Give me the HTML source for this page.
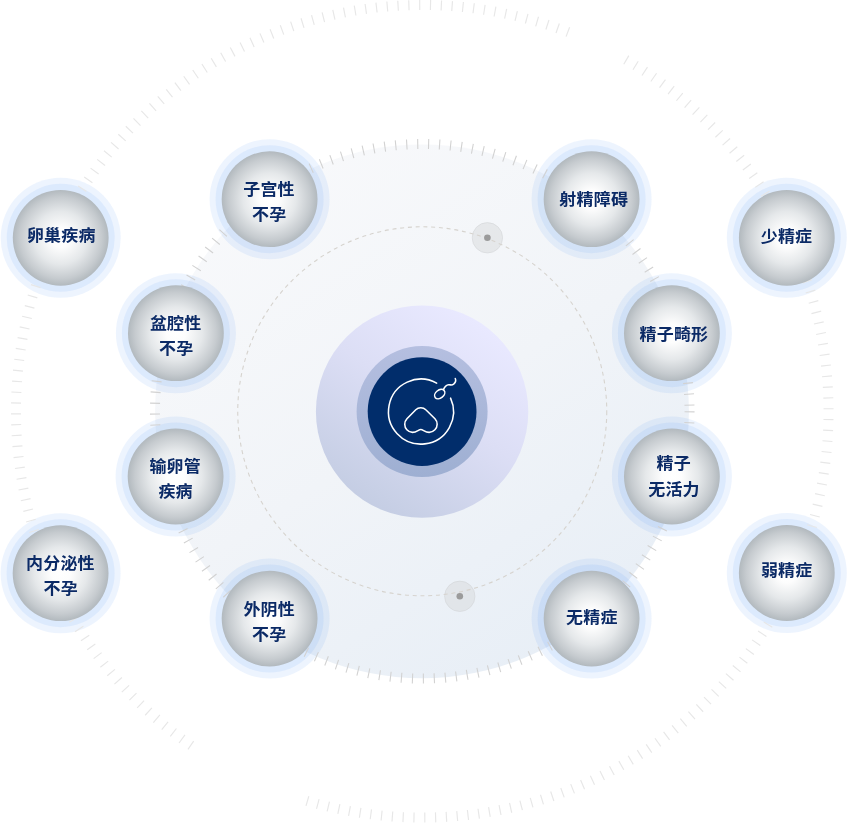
<!DOCTYPE html>
<html lang="zh-CN"><head><meta charset="utf-8"><title>不孕不育病因</title>
<style>html,body{margin:0;padding:0;background:#fff;}body{width:847px;height:823px;overflow:hidden;}svg{display:block;position:absolute;left:0;top:0;}svg.txt{will-change:transform;}</style>
</head><body>
<svg width="847" height="823" viewBox="0 0 847 823">
<defs>
<linearGradient id="disc" x1="0.2" y1="0.05" x2="0.8" y2="0.98">
<stop offset="0" stop-color="#f8f9fb"/><stop offset="0.5" stop-color="#f1f4f8"/><stop offset="1" stop-color="#e7eef6"/>
</linearGradient>
<linearGradient id="purple" x1="0.8" y1="0.1" x2="0.25" y2="0.95">
<stop offset="0" stop-color="#e9e9ff"/><stop offset="0.45" stop-color="#dcdef5"/><stop offset="1" stop-color="#c4cde3"/>
</linearGradient>
<linearGradient id="ring" x1="0.5" y1="0" x2="0.5" y2="1">
<stop offset="0" stop-color="#b5bfe0"/><stop offset="1" stop-color="#9eafd2"/>
</linearGradient>
<radialGradient id="sph" cx="0.5" cy="0.5" r="0.5">
<stop offset="0" stop-color="#ffffff"/><stop offset="0.2" stop-color="#fdfdfd"/><stop offset="0.55" stop-color="#e5e8ea"/><stop offset="0.85" stop-color="#c6cbcf"/><stop offset="1" stop-color="#b2b9be"/>
</radialGradient>
</defs>
<rect width="847" height="823" fill="#ffffff"/>
<circle cx="422.0" cy="411.3" r="266.9" fill="url(#disc)"/>
<circle cx="60.7" cy="237.8" r="60" fill="#5098f5" fill-opacity="0.1"/><circle cx="60.7" cy="237.8" r="54" fill="#5098f5" fill-opacity="0.1"/>
<circle cx="269.6" cy="199.2" r="60" fill="#5098f5" fill-opacity="0.1"/><circle cx="269.6" cy="199.2" r="54" fill="#5098f5" fill-opacity="0.1"/>
<circle cx="175.9" cy="333.2" r="60" fill="#5098f5" fill-opacity="0.1"/><circle cx="175.9" cy="333.2" r="54" fill="#5098f5" fill-opacity="0.1"/>
<circle cx="175.6" cy="476.5" r="60" fill="#5098f5" fill-opacity="0.1"/><circle cx="175.6" cy="476.5" r="54" fill="#5098f5" fill-opacity="0.1"/>
<circle cx="60.6" cy="573.2" r="60" fill="#5098f5" fill-opacity="0.1"/><circle cx="60.6" cy="573.2" r="54" fill="#5098f5" fill-opacity="0.1"/>
<circle cx="269.6" cy="618.6" r="60" fill="#5098f5" fill-opacity="0.1"/><circle cx="269.6" cy="618.6" r="54" fill="#5098f5" fill-opacity="0.1"/>
<circle cx="591.6" cy="199.2" r="60" fill="#5098f5" fill-opacity="0.1"/><circle cx="591.6" cy="199.2" r="54" fill="#5098f5" fill-opacity="0.1"/>
<circle cx="786.8" cy="237.8" r="60" fill="#5098f5" fill-opacity="0.1"/><circle cx="786.8" cy="237.8" r="54" fill="#5098f5" fill-opacity="0.1"/>
<circle cx="671.9" cy="333.2" r="60" fill="#5098f5" fill-opacity="0.1"/><circle cx="671.9" cy="333.2" r="54" fill="#5098f5" fill-opacity="0.1"/>
<circle cx="671.9" cy="476.5" r="60" fill="#5098f5" fill-opacity="0.1"/><circle cx="671.9" cy="476.5" r="54" fill="#5098f5" fill-opacity="0.1"/>
<circle cx="786.8" cy="573.0" r="60" fill="#5098f5" fill-opacity="0.1"/><circle cx="786.8" cy="573.0" r="54" fill="#5098f5" fill-opacity="0.1"/>
<circle cx="591.6" cy="618.6" r="60" fill="#5098f5" fill-opacity="0.1"/><circle cx="591.6" cy="618.6" r="54" fill="#5098f5" fill-opacity="0.1"/>
<g stroke="#e7e7e7" stroke-width="1.15" fill="none"><line x1="20.96" y1="413.82" x2="10.96" y2="413.88"/><line x1="21.03" y1="403.14" x2="11.04" y2="402.93"/><line x1="21.39" y1="392.46" x2="11.40" y2="391.99"/><line x1="22.04" y1="381.80" x2="12.06" y2="381.06"/><line x1="22.96" y1="371.15" x2="13.01" y2="370.15"/><line x1="24.17" y1="360.54" x2="14.25" y2="359.27"/><line x1="25.67" y1="349.96" x2="15.78" y2="348.43"/><line x1="27.44" y1="339.42" x2="17.60" y2="337.63"/><line x1="29.49" y1="328.94" x2="19.71" y2="326.89"/><line x1="31.82" y1="318.51" x2="22.10" y2="316.20"/><line x1="34.43" y1="308.15" x2="24.77" y2="305.58"/><line x1="37.32" y1="297.86" x2="27.72" y2="295.04"/><line x1="40.47" y1="287.66" x2="30.96" y2="284.58"/><line x1="43.90" y1="277.54" x2="34.47" y2="274.20"/><line x1="47.59" y1="267.51" x2="38.26" y2="263.93"/><line x1="51.55" y1="257.59" x2="42.32" y2="253.76"/><line x1="55.78" y1="247.78" x2="46.65" y2="243.70"/><line x1="60.26" y1="238.08" x2="51.24" y2="233.76"/><line x1="65.00" y1="228.50" x2="56.10" y2="223.95"/><line x1="69.99" y1="219.06" x2="61.21" y2="214.27"/><line x1="75.24" y1="209.75" x2="66.59" y2="204.73"/><line x1="80.72" y1="200.58" x2="72.21" y2="195.33"/><line x1="86.45" y1="191.57" x2="78.09" y2="186.09"/><line x1="92.42" y1="182.71" x2="84.20" y2="177.01"/><line x1="98.62" y1="174.01" x2="90.56" y2="168.09"/><line x1="105.06" y1="165.48" x2="97.15" y2="159.35"/><line x1="111.71" y1="157.12" x2="103.97" y2="150.78"/><line x1="118.59" y1="148.94" x2="111.02" y2="142.40"/><line x1="125.68" y1="140.95" x2="118.29" y2="134.21"/><line x1="132.98" y1="133.15" x2="125.77" y2="126.22"/><line x1="140.49" y1="125.55" x2="133.47" y2="118.43"/><line x1="148.20" y1="118.15" x2="141.37" y2="110.85"/><line x1="156.10" y1="110.96" x2="149.46" y2="103.48"/><line x1="164.19" y1="103.98" x2="157.76" y2="96.32"/><line x1="172.46" y1="97.22" x2="166.23" y2="89.39"/><line x1="180.91" y1="90.68" x2="174.89" y2="82.69"/><line x1="189.53" y1="84.37" x2="183.73" y2="76.22"/><line x1="198.31" y1="78.29" x2="192.73" y2="69.99"/><line x1="207.26" y1="72.45" x2="201.90" y2="64.00"/><line x1="216.36" y1="66.85" x2="211.22" y2="58.26"/><line x1="225.60" y1="61.49" x2="220.70" y2="52.77"/><line x1="234.98" y1="56.38" x2="230.31" y2="47.53"/><line x1="244.49" y1="51.52" x2="240.06" y2="42.55"/><line x1="254.14" y1="46.91" x2="249.95" y2="37.83"/><line x1="263.89" y1="42.57" x2="259.95" y2="33.38"/><line x1="273.77" y1="38.48" x2="270.07" y2="29.19"/><line x1="283.74" y1="34.66" x2="280.29" y2="25.27"/><line x1="293.82" y1="31.11" x2="290.62" y2="21.63"/><line x1="303.99" y1="27.82" x2="301.04" y2="18.27"/><line x1="314.24" y1="24.81" x2="311.54" y2="15.18"/><line x1="324.56" y1="22.07" x2="322.13" y2="12.37"/><line x1="334.96" y1="19.61" x2="332.78" y2="9.85"/><line x1="345.42" y1="17.42" x2="343.50" y2="7.61"/><line x1="355.93" y1="15.52" x2="354.28" y2="5.66"/><line x1="366.49" y1="13.89" x2="365.10" y2="3.99"/><line x1="377.09" y1="12.55" x2="375.96" y2="2.61"/><line x1="387.72" y1="11.49" x2="386.86" y2="1.53"/><line x1="398.37" y1="10.71" x2="397.78" y2="0.73"/><line x1="409.05" y1="10.22" x2="408.72" y2="0.22"/><line x1="419.73" y1="10.01" x2="419.67" y2="0.01"/><line x1="430.41" y1="10.08" x2="430.62" y2="0.09"/><line x1="441.09" y1="10.44" x2="441.56" y2="0.45"/><line x1="451.75" y1="11.09" x2="452.49" y2="1.11"/><line x1="462.40" y1="12.01" x2="463.40" y2="2.06"/><line x1="473.01" y1="13.22" x2="474.28" y2="3.30"/><line x1="483.59" y1="14.72" x2="485.12" y2="4.83"/><line x1="494.13" y1="16.49" x2="495.92" y2="6.65"/><line x1="504.61" y1="18.54" x2="506.66" y2="8.76"/><line x1="515.04" y1="20.87" x2="517.35" y2="11.15"/><line x1="525.40" y1="23.48" x2="527.97" y2="13.82"/><line x1="535.69" y1="26.37" x2="538.51" y2="16.77"/><line x1="545.89" y1="29.52" x2="548.97" y2="20.01"/><line x1="556.01" y1="32.95" x2="559.35" y2="23.52"/><line x1="566.04" y1="36.64" x2="569.62" y2="27.31"/><line x1="623.80" y1="64.29" x2="628.82" y2="55.64"/><line x1="632.97" y1="69.77" x2="638.22" y2="61.26"/><line x1="641.98" y1="75.50" x2="647.46" y2="67.14"/><line x1="650.84" y1="81.47" x2="656.54" y2="73.25"/><line x1="659.54" y1="87.67" x2="665.46" y2="79.61"/><line x1="668.07" y1="94.11" x2="674.20" y2="86.20"/><line x1="676.43" y1="100.76" x2="682.77" y2="93.02"/><line x1="684.61" y1="107.64" x2="691.15" y2="100.07"/><line x1="692.60" y1="114.73" x2="699.34" y2="107.34"/><line x1="700.40" y1="122.03" x2="707.33" y2="114.82"/><line x1="708.00" y1="129.54" x2="715.12" y2="122.52"/><line x1="715.40" y1="137.25" x2="722.70" y2="130.42"/><line x1="722.59" y1="145.15" x2="730.07" y2="138.51"/><line x1="729.57" y1="153.24" x2="737.23" y2="146.81"/><line x1="736.33" y1="161.51" x2="744.16" y2="155.28"/><line x1="742.87" y1="169.96" x2="750.86" y2="163.94"/><line x1="749.18" y1="178.58" x2="757.33" y2="172.78"/><line x1="755.26" y1="187.36" x2="763.56" y2="181.78"/><line x1="761.10" y1="196.31" x2="769.55" y2="190.95"/><line x1="766.70" y1="205.41" x2="775.29" y2="200.27"/><line x1="772.06" y1="214.65" x2="780.78" y2="209.75"/><line x1="777.17" y1="224.03" x2="786.02" y2="219.36"/><line x1="782.03" y1="233.54" x2="791.00" y2="229.11"/><line x1="786.64" y1="243.19" x2="795.72" y2="239.00"/><line x1="790.98" y1="252.94" x2="800.17" y2="249.00"/><line x1="795.07" y1="262.82" x2="804.36" y2="259.12"/><line x1="798.89" y1="272.79" x2="808.28" y2="269.34"/><line x1="802.44" y1="282.87" x2="811.92" y2="279.67"/><line x1="805.73" y1="293.04" x2="815.28" y2="290.09"/><line x1="808.74" y1="303.29" x2="818.37" y2="300.59"/><line x1="811.48" y1="313.61" x2="821.18" y2="311.18"/><line x1="813.94" y1="324.01" x2="823.70" y2="321.83"/><line x1="816.13" y1="334.47" x2="825.94" y2="332.55"/><line x1="818.03" y1="344.98" x2="827.89" y2="343.33"/><line x1="819.66" y1="355.54" x2="829.56" y2="354.15"/><line x1="821.00" y1="366.14" x2="830.94" y2="365.01"/><line x1="822.06" y1="376.77" x2="832.02" y2="375.91"/><line x1="822.84" y1="387.42" x2="832.82" y2="386.83"/><line x1="823.33" y1="398.10" x2="833.33" y2="397.77"/><line x1="823.54" y1="408.78" x2="833.54" y2="408.72"/><line x1="823.47" y1="419.46" x2="833.46" y2="419.67"/><line x1="823.11" y1="430.14" x2="833.10" y2="430.61"/><line x1="822.46" y1="440.80" x2="832.44" y2="441.54"/><line x1="821.54" y1="451.45" x2="831.49" y2="452.45"/><line x1="820.33" y1="462.06" x2="830.25" y2="463.33"/><line x1="818.83" y1="472.64" x2="828.72" y2="474.17"/><line x1="817.06" y1="483.18" x2="826.90" y2="484.97"/><line x1="815.01" y1="493.66" x2="824.79" y2="495.71"/><line x1="812.68" y1="504.09" x2="822.40" y2="506.40"/><line x1="810.07" y1="514.45" x2="819.73" y2="517.02"/><line x1="807.18" y1="524.74" x2="816.78" y2="527.56"/><line x1="804.03" y1="534.94" x2="813.54" y2="538.02"/><line x1="800.60" y1="545.06" x2="810.03" y2="548.40"/><line x1="796.91" y1="555.09" x2="806.24" y2="558.67"/><line x1="792.95" y1="565.01" x2="802.18" y2="568.84"/><line x1="788.72" y1="574.82" x2="797.85" y2="578.90"/><line x1="784.24" y1="584.52" x2="793.26" y2="588.84"/><line x1="779.50" y1="594.10" x2="788.40" y2="598.65"/><line x1="774.51" y1="603.54" x2="783.29" y2="608.33"/><line x1="769.26" y1="612.85" x2="777.91" y2="617.87"/><line x1="763.78" y1="622.02" x2="772.29" y2="627.27"/><line x1="758.05" y1="631.03" x2="766.41" y2="636.51"/><line x1="752.08" y1="639.89" x2="760.30" y2="645.59"/><line x1="745.88" y1="648.59" x2="753.94" y2="654.51"/><line x1="739.44" y1="657.12" x2="747.35" y2="663.25"/><line x1="732.79" y1="665.48" x2="740.53" y2="671.82"/><line x1="725.91" y1="673.66" x2="733.48" y2="680.20"/><line x1="718.82" y1="681.65" x2="726.21" y2="688.39"/><line x1="711.52" y1="689.45" x2="718.73" y2="696.38"/><line x1="704.01" y1="697.05" x2="711.03" y2="704.17"/><line x1="696.30" y1="704.45" x2="703.13" y2="711.75"/><line x1="688.40" y1="711.64" x2="695.04" y2="719.12"/><line x1="680.31" y1="718.62" x2="686.74" y2="726.28"/><line x1="672.04" y1="725.38" x2="678.27" y2="733.21"/><line x1="663.59" y1="731.92" x2="669.61" y2="739.91"/><line x1="654.97" y1="738.23" x2="660.77" y2="746.38"/><line x1="646.19" y1="744.31" x2="651.77" y2="752.61"/><line x1="637.24" y1="750.15" x2="642.60" y2="758.60"/><line x1="628.14" y1="755.75" x2="633.28" y2="764.34"/><line x1="618.90" y1="761.11" x2="623.80" y2="769.83"/><line x1="609.52" y1="766.22" x2="614.19" y2="775.07"/><line x1="600.01" y1="771.08" x2="604.44" y2="780.05"/><line x1="590.36" y1="775.69" x2="594.55" y2="784.77"/><line x1="580.61" y1="780.03" x2="584.55" y2="789.22"/><line x1="570.73" y1="784.12" x2="574.43" y2="793.41"/><line x1="560.76" y1="787.94" x2="564.21" y2="797.33"/><line x1="550.68" y1="791.49" x2="553.88" y2="800.97"/><line x1="540.51" y1="794.78" x2="543.46" y2="804.33"/><line x1="530.26" y1="797.79" x2="532.96" y2="807.42"/><line x1="519.94" y1="800.53" x2="522.37" y2="810.23"/><line x1="509.54" y1="802.99" x2="511.72" y2="812.75"/><line x1="499.08" y1="805.18" x2="501.00" y2="814.99"/><line x1="488.57" y1="807.08" x2="490.22" y2="816.94"/><line x1="478.01" y1="808.71" x2="479.40" y2="818.61"/><line x1="467.41" y1="810.05" x2="468.54" y2="819.99"/><line x1="456.78" y1="811.11" x2="457.64" y2="821.07"/><line x1="446.13" y1="811.89" x2="446.72" y2="821.87"/><line x1="435.45" y1="812.38" x2="435.78" y2="822.38"/><line x1="424.77" y1="812.59" x2="424.83" y2="822.59"/><line x1="414.09" y1="812.52" x2="413.88" y2="822.51"/><line x1="403.41" y1="812.16" x2="402.94" y2="822.15"/><line x1="392.75" y1="811.51" x2="392.01" y2="821.49"/><line x1="382.10" y1="810.59" x2="381.10" y2="820.54"/><line x1="371.49" y1="809.38" x2="370.22" y2="819.30"/><line x1="360.91" y1="807.88" x2="359.38" y2="817.77"/><line x1="350.37" y1="806.11" x2="348.58" y2="815.95"/><line x1="339.89" y1="804.06" x2="337.84" y2="813.84"/><line x1="329.46" y1="801.73" x2="327.15" y2="811.45"/><line x1="319.10" y1="799.12" x2="316.53" y2="808.78"/><line x1="308.81" y1="796.23" x2="305.99" y2="805.83"/><line x1="193.66" y1="741.13" x2="187.96" y2="749.35"/><line x1="184.96" y1="734.93" x2="179.04" y2="742.99"/><line x1="176.43" y1="728.49" x2="170.30" y2="736.40"/><line x1="168.07" y1="721.84" x2="161.73" y2="729.58"/><line x1="159.89" y1="714.96" x2="153.35" y2="722.53"/><line x1="151.90" y1="707.87" x2="145.16" y2="715.26"/><line x1="144.10" y1="700.57" x2="137.17" y2="707.78"/><line x1="136.50" y1="693.06" x2="129.38" y2="700.08"/><line x1="129.10" y1="685.35" x2="121.80" y2="692.18"/><line x1="121.91" y1="677.45" x2="114.43" y2="684.09"/><line x1="114.93" y1="669.36" x2="107.27" y2="675.79"/><line x1="108.17" y1="661.09" x2="100.34" y2="667.32"/><line x1="101.63" y1="652.64" x2="93.64" y2="658.66"/><line x1="95.32" y1="644.02" x2="87.17" y2="649.82"/><line x1="89.24" y1="635.24" x2="80.94" y2="640.82"/><line x1="83.40" y1="626.29" x2="74.95" y2="631.65"/><line x1="77.80" y1="617.19" x2="69.21" y2="622.33"/><line x1="72.44" y1="607.95" x2="63.72" y2="612.85"/><line x1="67.33" y1="598.57" x2="58.48" y2="603.24"/><line x1="62.47" y1="589.06" x2="53.50" y2="593.49"/><line x1="57.86" y1="579.41" x2="48.78" y2="583.60"/><line x1="53.52" y1="569.66" x2="44.33" y2="573.60"/><line x1="49.43" y1="559.78" x2="40.14" y2="563.48"/><line x1="45.61" y1="549.81" x2="36.22" y2="553.26"/><line x1="42.06" y1="539.73" x2="32.58" y2="542.93"/><line x1="38.77" y1="529.56" x2="29.22" y2="532.51"/><line x1="35.76" y1="519.31" x2="26.13" y2="522.01"/><line x1="33.02" y1="508.99" x2="23.32" y2="511.42"/><line x1="30.56" y1="498.59" x2="20.80" y2="500.77"/><line x1="28.37" y1="488.13" x2="18.56" y2="490.05"/><line x1="26.47" y1="477.62" x2="16.61" y2="479.27"/><line x1="24.84" y1="467.06" x2="14.94" y2="468.45"/><line x1="23.50" y1="456.46" x2="13.56" y2="457.59"/><line x1="22.44" y1="445.83" x2="12.48" y2="446.69"/><line x1="21.66" y1="435.18" x2="11.68" y2="435.77"/><line x1="21.17" y1="424.50" x2="11.17" y2="424.83"/></g>
<circle cx="422.25" cy="411.3" r="267.3" fill="none" stroke="#d2d2d2" stroke-width="10" stroke-dasharray="1.1 9.9"/>
<circle cx="487.4" cy="237.8" r="15.2" fill="#d8dadc" fill-opacity="0.5" stroke="#cfd1d3" stroke-opacity="0.6" stroke-width="0.8"/>
<circle cx="459.8" cy="596.3" r="15.2" fill="#d8dadc" fill-opacity="0.5" stroke="#cfd1d3" stroke-opacity="0.6" stroke-width="0.8"/>
<circle cx="422.25" cy="411.3" r="184.5" fill="none" stroke="#d6d3ce" stroke-width="1.1" stroke-dasharray="4 3.77"/>
<circle cx="487.4" cy="237.8" r="3.3" fill="#9b9b9b"/>
<circle cx="459.8" cy="596.3" r="3.3" fill="#9b9b9b"/>
<circle cx="422.1" cy="411.6" r="106.2" fill="url(#purple)"/>
<circle cx="422.1" cy="411.6" r="65.5" fill="url(#ring)"/>
<circle cx="422.1" cy="411.6" r="54.4" fill="#012d6b"/>
<g fill="none" stroke="#ffffff" stroke-width="1.55" stroke-linecap="round" stroke-linejoin="round">
<path d="M 436.65 383.11 A 32.5 32.5 0 1 0 450.56 398.09"/>
<ellipse cx="439.7" cy="394.1" rx="5.7" ry="4.0" transform="rotate(-39 439.7 394.1)"/>
<path d="M 443.57 389.35 C 444.65 386.75, 446.31 384.96, 448.67 384.77 C 450.56 384.63, 451.74 385.71, 453.63 384.15 C 455.52 382.50, 456.22 380.61, 455.28 378.49"/>
<path d="M 420.79 429.52 C 418.55 429.52, 416.78 432.35, 412.53 432.35 C 407.81 432.35, 404.74 428.34, 404.74 424.20 C 404.74 421.84, 405.45 420.37, 406.92 418.77 L 415.78 409.74 C 418.43 406.97, 423.15 406.97, 425.81 409.74 L 434.96 418.77 C 436.44 420.37, 437.15 421.84, 437.15 424.20 C 437.15 428.34, 433.78 432.35, 429.18 432.35 C 424.93 432.35, 423.04 429.52, 420.79 429.52 Z"/>
</g>
<circle cx="60.7" cy="237.8" r="47.9" fill="url(#sph)"/>
<circle cx="269.6" cy="199.2" r="47.9" fill="url(#sph)"/>
<circle cx="175.9" cy="333.2" r="47.9" fill="url(#sph)"/>
<circle cx="175.6" cy="476.5" r="47.9" fill="url(#sph)"/>
<circle cx="60.6" cy="573.2" r="47.9" fill="url(#sph)"/>
<circle cx="269.6" cy="618.6" r="47.9" fill="url(#sph)"/>
<circle cx="591.6" cy="199.2" r="47.9" fill="url(#sph)"/>
<circle cx="786.8" cy="237.8" r="47.9" fill="url(#sph)"/>
<circle cx="671.9" cy="333.2" r="47.9" fill="url(#sph)"/>
<circle cx="671.9" cy="476.5" r="47.9" fill="url(#sph)"/>
<circle cx="786.8" cy="573.0" r="47.9" fill="url(#sph)"/>
<circle cx="591.6" cy="618.6" r="47.9" fill="url(#sph)"/>
</svg>
<svg class="txt" width="847" height="823" viewBox="0 0 847 823">
<g font-family="'Liberation Sans', 'Noto Sans CJK SC', sans-serif" font-weight="700" font-size="17" fill="#0b2a66" text-anchor="middle" letter-spacing="0.2">
<text transform="translate(61.30 234.80) scale(1 0.96)" x="0" y="6.1">卵巢疾病</text>
<text transform="translate(269.00 189.50) scale(1 0.96)" x="0" y="6.1">子宫性</text>
<text transform="translate(269.20 214.20) scale(1 0.96)" x="0" y="6.1">不孕</text>
<text transform="translate(175.70 323.50) scale(1 0.96)" x="0" y="6.1">盆腔性</text>
<text transform="translate(176.20 348.50) scale(1 0.96)" x="0" y="6.1">不孕</text>
<text transform="translate(175.20 466.40) scale(1 0.96)" x="0" y="6.1">输卵管</text>
<text transform="translate(175.60 491.40) scale(1 0.96)" x="0" y="6.1">疾病</text>
<text transform="translate(60.40 563.30) scale(1 0.96)" x="0" y="6.1">内分泌性</text>
<text transform="translate(60.70 588.20) scale(1 0.96)" x="0" y="6.1">不孕</text>
<text transform="translate(269.20 609.10) scale(1 0.96)" x="0" y="6.1">外阴性</text>
<text transform="translate(269.20 633.90) scale(1 0.96)" x="0" y="6.1">不孕</text>
<text transform="translate(593.70 199.60) scale(1 0.96)" x="0" y="6.1">射精障碍</text>
<text transform="translate(786.50 236.10) scale(1 0.96)" x="0" y="6.1">少精症</text>
<text transform="translate(673.90 334.30) scale(1 0.96)" x="0" y="6.1">精子畸形</text>
<text transform="translate(673.80 463.50) scale(1 0.96)" x="0" y="6.1">精子</text>
<text transform="translate(674.00 488.70) scale(1 0.96)" x="0" y="6.1">无活力</text>
<text transform="translate(786.70 570.50) scale(1 0.96)" x="0" y="6.1">弱精症</text>
<text transform="translate(591.80 617.60) scale(1 0.96)" x="0" y="6.1">无精症</text>
</g>
</svg>
</body></html>
